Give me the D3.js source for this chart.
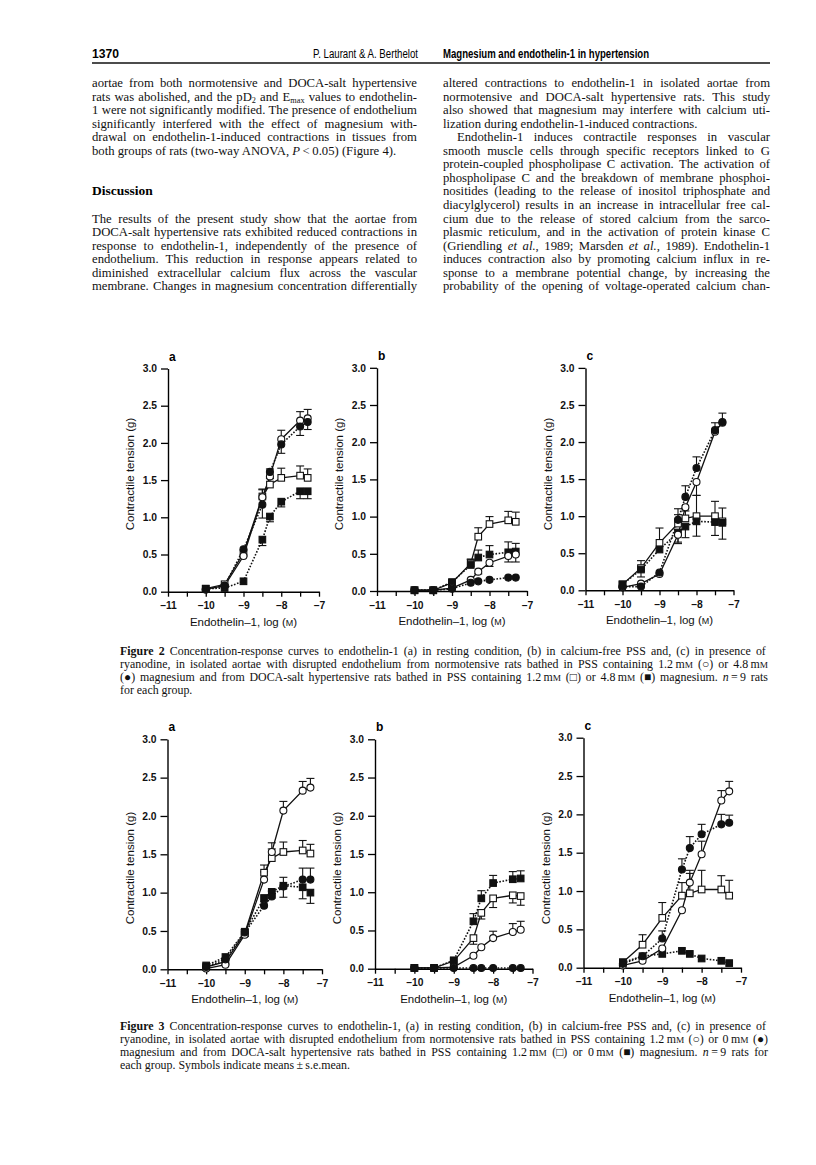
<!DOCTYPE html>
<html>
<head>
<meta charset="utf-8">
<title>Magnesium and endothelin-1 in hypertension</title>
<script src="https://d3js.org/d3.v7.min.js"></script>
<style>
  body { margin: 0; background: #fff; }
  svg { display: block; }
  .body-text { font-family: "Liberation Serif", "Times New Roman", serif; font-size: 12.7px; fill: #111; }
  .caption { font-family: "Liberation Serif", "Times New Roman", serif; font-size: 11.9px; fill: #111; }
  .tick text { font-family: "Liberation Sans", Arial, sans-serif; font-size: 10.3px; font-weight: bold; fill: #111; }
  .axis-title { font-family: "Liberation Sans", Arial, sans-serif; font-size: 11.5px; fill: #111; }
</style>
</head>
<body>
<svg id="page" width="816" height="1165"></svg>
<script>
// doses, log(M): 1e-10, 3e-10, 1e-9, 3e-9, 5e-9, 1e-8, 3e-8, 5e-8
var doses = [-10, -9.5, -9, -8.5, -8.3, -8, -7.5, -7.3];
var xTicks = [-11, -10.5, -10, -9.5, -9, -8.5, -8, -7.5, -7];
var yTicks = [0, 0.5, 1, 1.5, 2, 2.5, 3];

// series order: open circle, filled circle, open square, filled square
// sem: + drawn upwards, - drawn downwards
var fig2aMean = [
  [0.03, 0.08, 0.48, 1.27, 1.55, 2.05, 2.30, 2.33],
  [0.03, 0.08, 0.57, 1.17, 1.61, 1.98, 2.22, 2.28],
  [0.04, 0.10, 0.52, 1.28, 1.44, 1.53, 1.56, 1.53],
  [0.04, 0.05, 0.14, 0.70, 1.01, 1.21, 1.35, 1.35]];
var fig2aSem = [
  [0, 0, 0, 0.10, 0.10, 0.12, 0.12, 0.12],
  [0, 0, 0, -0.18, -0.08, -0.12, -0.12, -0.10],
  [0, 0, 0, 0.10, 0.08, 0.13, 0.13, 0.12],
  [0, 0, 0, -0.08, -0.07, -0.07, -0.10, -0.10]];

var fig2bMean = [
  [0.01, 0.01, 0.04, 0.15, 0.26, 0.38, 0.47, 0.49],
  [0.01, 0.01, 0.03, 0.11, 0.13, 0.15, 0.18, 0.18],
  [0.01, 0.01, 0.11, 0.37, 0.73, 0.90, 0.95, 0.93],
  [0.01, 0.01, 0.12, 0.35, 0.45, 0.49, 0.52, 0.53]];
var fig2bSem = [
  [0, 0, 0, 0, -0.03, -0.05, -0.08, -0.10],
  [0, 0, 0, 0, 0, 0, 0, 0],
  [0, 0, 0, 0.05, 0.12, 0.10, 0.12, 0.13],
  [0, 0, 0, 0.08, 0.10, 0.12, 0.14, 0.11]];

var fig2cMean = [
  [0.04, 0.09, 0.22, 0.75, 1.12, 1.46, 2.14, 2.26],
  [0.05, 0.05, 0.24, 0.95, 1.26, 1.65, 2.16, 2.27],
  [0.08, 0.30, 0.64, 0.90, 0.97, 1.00, 1.00, 0.93],
  [0.08, 0.28, 0.55, 0.78, 0.86, 0.93, 0.92, 0.91]];
var fig2cSem = [
  [0, 0, 0, -0.10, 0, -0.18, 0, 0],
  [0, 0, 0, 0.15, 0.15, 0.15, 0.10, 0.12],
  [0, 0.10, 0.20, 0.12, 0.10, 0.28, 0.20, 0.18],
  [0, -0.10, 0, -0.15, -0.15, -0.20, -0.18, -0.22]];

var fig3aMean = [
  [0.01, 0.06, 0.45, 1.17, 1.53, 2.07, 2.33, 2.37],
  [0.03, 0.13, 0.48, 0.83, 0.95, 1.08, 1.17, 1.17],
  [0.03, 0.10, 0.47, 1.26, 1.45, 1.53, 1.55, 1.51],
  [0.05, 0.16, 0.49, 0.93, 1.01, 1.09, 1.07, 1.00]];
var fig3aSem = [
  [0, 0, 0.05, 0.10, 0.12, 0.12, 0.12, 0.12],
  [0, 0, 0, 0, 0.07, 0.12, 0.15, 0.15],
  [0, 0, 0.05, 0.10, 0.12, 0.13, 0.13, 0.12],
  [0, 0, -0.06, -0.05, -0.08, -0.15, -0.15, -0.14]];

var fig3bMean = [
  [0.01, 0.01, 0.02, 0.17, 0.28, 0.40, 0.48, 0.51],
  [0.01, 0.01, 0.01, 0.01, 0.01, 0.01, 0.01, 0.01],
  [0.01, 0.01, 0.10, 0.40, 0.73, 0.92, 0.96, 0.95],
  [0.01, 0.01, 0.11, 0.62, 0.92, 1.12, 1.17, 1.18]];
var fig3bSem = [
  [0, 0, 0, 0, 0, 0.09, 0.11, 0.11],
  [0, 0, 0, 0, 0, 0, 0, 0],
  [0, 0, 0, -0.08, -0.08, -0.12, -0.10, -0.12],
  [0, 0, 0, 0.10, 0.10, 0.10, 0.10, 0.10]];

var fig3cMean = [
  [0.03, 0.09, 0.25, 0.75, 1.11, 1.48, 2.18, 2.30],
  [0.05, 0.15, 0.38, 1.28, 1.56, 1.74, 1.87, 1.89],
  [0.07, 0.30, 0.65, 0.94, 0.97, 1.02, 1.02, 0.94],
  [0.07, 0.15, 0.18, 0.22, 0.18, 0.12, 0.09, 0.06]];
var fig3cSem = [
  [0, 0, 0, 0, 0.12, 0.17, 0.13, 0.13],
  [0, 0, 0.10, 0.14, 0.15, 0.13, 0.13, 0.10],
  [0, 0.13, 0.20, 0.17, 0.30, 0.25, 0.18, 0.20],
  [0, 0, 0, 0, 0, 0, 0, 0]];

// page text ({i:..} italic, {sub:..} subscript, {sc:..} small caps, {b:..} bold)
var leftLines = [
  "aortae from both normotensive and DOCA-salt hypertensive",
  "rats was abolished, and the pD{sub:2} and E{sub:max} values to endothelin-",
  "1 were not significantly modified. The presence of endothelium",
  "significantly interfered with the effect of magnesium with-",
  "drawal on endothelin-1-induced contractions in tissues from",
  "both groups of rats (two-way ANOVA, {i:P}\u2009<\u20090.05) (Figure 4).|"];
var leftLines2 = [
  "The results of the present study show that the aortae from",
  "DOCA-salt hypertensive rats exhibited reduced contractions in",
  "response to endothelin-1, independently of the presence of",
  "endothelium. This reduction in response appears related to",
  "diminished extracellular calcium flux across the vascular",
  "membrane. Changes in magnesium concentration differentially"];
var rightLines = [
  "altered contractions to endothelin-1 in isolated aortae from",
  "normotensive and DOCA-salt hypertensive rats. This study",
  "also showed that magnesium may interfere with calcium uti-",
  "lization during endothelin-1-induced contractions.|",
  ">Endothelin-1 induces contractile responses in vascular",
  "smooth muscle cells through specific receptors linked to G",
  "protein-coupled phospholipase C activation. The activation of",
  "phospholipase C and the breakdown of membrane phosphoi-",
  "nositides (leading to the release of inositol triphosphate and",
  "diacylglycerol) results in an increase in intracellular free cal-",
  "cium due to the release of stored calcium from the sarco-",
  "plasmic reticulum, and in the activation of protein kinase C",
  "(Griendling {i:et al.}, 1989; Marsden {i:et al.}, 1989). Endothelin-1",
  "induces contraction also by promoting calcium influx in re-",
  "sponse to a membrane potential change, by increasing the",
  "probability of the opening of voltage-operated calcium chan-"];
var fig2Caption = [
  "{b:Figure 2}  Concentration-response curves to endothelin-1 (a) in resting condition, (b) in calcium-free PSS and, (c) in presence of",
  "ryanodine, in isolated aortae with disrupted endothelium from normotensive rats bathed in PSS containing 1.2\u2009m{sc:M} (\u25cb) or 4.8\u2009m{sc:M}",
  "(\u25cf) magnesium and from DOCA-salt hypertensive rats bathed in PSS containing 1.2\u2009m{sc:M} (\u25a1) or 4.8\u2009m{sc:M} (\u25a0) magnesium. {i:n}\u2009=\u20099 rats",
  "for each group.|"];
var fig3Caption = [
  "{b:Figure 3}  Concentration-response curves to endothelin-1, (a) in resting condition, (b) in calcium-free PSS and, (c) in presence of",
  "ryanodine, in isolated aortae with disrupted endothelium from normotensive rats bathed in PSS containing 1.2\u2009m{sc:M} (\u25cb) or 0\u2009m{sc:M} (\u25cf)",
  "magnesium and from DOCA-salt hypertensive rats bathed in PSS containing 1.2\u2009m{sc:M} (\u25a1) or 0\u2009m{sc:M} (\u25a0) magnesium. {i:n}\u2009=\u20099 rats for",
  "each group. Symbols indicate means\u2009\u00b1\u2009s.e.mean.|"];

var svg = d3.select("#page");
svg.append("rect").attr("width", 816).attr("height", 1165).attr("fill", "#fff");

//
// text helpers
//
function rich(text, str) {
  var re = /\{(i|sub|sc|b):([^}]*)\}/g, last = 0, m, shift = 0;
  function plain(s) {
    var t = text.append("tspan").text(s);
    if (shift) { t.attr("dy", -shift); shift = 0; }
  }
  while ((m = re.exec(str))) {
    if (m.index > last) plain(str.slice(last, m.index));
    var t = text.append("tspan").text(m[2]);
    if (shift) { t.attr("dy", -shift); shift = 0; }
    if (m[1] == "i") t.attr("font-style", "italic");
    if (m[1] == "b") t.attr("font-weight", "bold");
    if (m[1] == "sc") t.attr("font-size", "78%");
    if (m[1] == "sub") { t.attr("font-size", "65%").attr("dy", 2.5); shift = 2.5; }
    last = re.lastIndex;
  }
  if (last < str.length) plain(str.slice(last));
}

function block(lines, cls, x0, x1, y0, lh, indent) {
  lines.forEach(function(line, i) {
    var last = line.slice(-1) == "|";
    var ind = line[0] == ">";
    var s = line.replace(/\|$/, "").replace(/^>/, "");
    var x = x0 + (ind ? indent : 0);
    var t = svg.append("text").attr("class", cls).attr("x", x).attr("y", y0 + i * lh);
    rich(t, s);
    if (!last) {
      var w = t.node().getComputedTextLength();
      var spaces = (s.match(/ /g) || []).length;
      if (spaces) t.attr("word-spacing", ((x1 - x) - w) / spaces);
    }
  });
}

// header (condensed sans, squeezed to the widths in the print)
svg.append("text").attr("x", 92).attr("y", 58)
  .style("font", "bold 12.5px 'Liberation Sans', Arial, sans-serif")
  .attr("textLength", 27).attr("lengthAdjust", "spacingAndGlyphs").text("1370");
svg.append("text").attr("x", 313).attr("y", 58)
  .style("font", "12.5px 'Liberation Sans', Arial, sans-serif")
  .attr("textLength", 105).attr("lengthAdjust", "spacingAndGlyphs")
  .text("P. Laurant & A. Berthelot");
svg.append("text").attr("x", 443).attr("y", 58)
  .style("font", "bold 12.5px 'Liberation Sans', Arial, sans-serif")
  .attr("textLength", 206).attr("lengthAdjust", "spacingAndGlyphs")
  .text("Magnesium and endothelin-1 in hypertension");
svg.append("line").attr("x1", 92).attr("x2", 770).attr("y1", 63).attr("y2", 63)
  .attr("stroke", "#111").attr("stroke-width", 1.3);

var lh = 13.55;
block(leftLines, "body-text", 92, 417, 87, lh, 0);
svg.append("text").attr("x", 92).attr("y", 87 + 8 * lh)
  .style("font", "bold 13.5px 'Liberation Serif', 'Times New Roman', serif").text("Discussion");
block(leftLines2, "body-text", 92, 417, 87 + 10 * lh, lh, 0);
block(rightLines, "body-text", 443, 770, 87, lh, 14);

block(fig2Caption, "caption", 120, 768, 655, 13, 0);
block(fig3Caption, "caption", 120, 768, 1030, 13, 0);

//
// panels
//
function panel(mean, sem, box, letter) {
  var x = d3.scaleLinear().domain([-11, -7]).range([box.left, box.right]);
  var y = d3.scaleLinear().domain([0, 3]).range([box.bottom, box.top]);
  var g = svg.append("g");

  g.append("g").attr("transform", "translate(0," + box.bottom + ")")
    .call(d3.axisBottom(x).tickValues(xTicks).tickSize(5).tickSizeOuter(0)
      .tickFormat(function(d) { return d % 1 ? "" : "\u2013" + Math.abs(d); }))
    .call(function(a) {
      a.select(".domain").attr("stroke-width", 1.4);
      a.selectAll(".tick line").attr("stroke-width", 1.3);
      a.selectAll(".tick text").attr("dy", "0.95em");
    });
  g.append("g").attr("transform", "translate(" + box.left + ",0)")
    .call(d3.axisLeft(y).tickValues(yTicks).tickSize(7).tickSizeOuter(0)
      .tickFormat(d3.format(".1f")))
    .call(function(a) {
      a.select(".domain").attr("stroke-width", 1.4);
      a.selectAll(".tick line").attr("stroke-width", 1.3);
      a.selectAll(".tick text").attr("x", -11);
    });

  var midX = (box.left + box.right) / 2;
  g.append("text").attr("class", "axis-title").attr("x", midX).attr("y", box.bottom + 34)
    .attr("text-anchor", "middle")
    .call(function(t) { rich(t, "Endothelin\u20131, log ({sc:M})"); });
  g.append("text").attr("class", "axis-title")
    .attr("transform", "translate(" + (box.left - 34) + "," + box.labelY + ") rotate(-90)")
    .attr("text-anchor", "middle").text("Contractile tension (g)");
  g.append("text").attr("x", box.left + 1).attr("y", box.top - 8)
    .style("font", "bold 12px 'Liberation Sans', Arial, sans-serif").text(letter);

  var line = d3.line().x(function(d, i) { return x(doses[i]); }).y(function(d) { return y(d); });
  // lines: open symbols solid, filled symbols dotted
  mean.forEach(function(s, k) {
    g.append("path").datum(s).attr("d", line).attr("fill", "none").attr("stroke", "#111")
      .attr("stroke-width", k % 2 ? 1.6 : 1.3)
      .attr("stroke-dasharray", k % 2 ? "1.6,1.6" : null);
  });
  // error bars
  mean.forEach(function(s, k) {
    s.forEach(function(v, i) {
      var e = sem[k][i];
      if (!e) return;
      var cx = x(doses[i]), y1 = y(v + e);
      g.append("line").attr("x1", cx).attr("x2", cx).attr("y1", y(v)).attr("y2", y1)
        .attr("stroke", "#111").attr("stroke-width", 1.1);
      g.append("line").attr("x1", cx - 4).attr("x2", cx + 4).attr("y1", y1).attr("y2", y1)
        .attr("stroke", "#111").attr("stroke-width", 1.1);
    });
  });
  // markers, squares drawn first so circles sit on top
  [2, 3, 0, 1].forEach(function(k) {
    var filled = k % 2 == 1, sq = k >= 2;
    var sel = g.selectAll(null).data(mean[k]).enter();
    if (sq) {
      sel.append("rect")
        .attr("x", function(d, i) { return x(doses[i]) - 3.3; })
        .attr("y", function(d) { return y(d) - 3.3; })
        .attr("width", 6.6).attr("height", 6.6)
        .attr("fill", filled ? "#111" : "#fff").attr("stroke", "#111").attr("stroke-width", 1.1);
    } else {
      sel.append("circle")
        .attr("cx", function(d, i) { return x(doses[i]); })
        .attr("cy", function(d) { return y(d); })
        .attr("r", 3.5)
        .attr("fill", filled ? "#111" : "#fff").attr("stroke", "#111").attr("stroke-width", 1.1);
    }
  });
}

panel(fig2aMean, fig2aSem, {left: 168, right: 319, top: 368.5, bottom: 591.7, labelY: 474}, "a");
panel(fig2bMean, fig2bSem, {left: 377, right: 527, top: 367.8, bottom: 591, labelY: 474}, "b");
panel(fig2cMean, fig2cSem, {left: 585.5, right: 733.5, top: 367.9, bottom: 590.3, labelY: 474}, "c");

panel(fig3aMean, fig3aSem, {left: 167.5, right: 322, top: 739.3, bottom: 969.3, labelY: 868}, "a");
panel(fig3bMean, fig3bSem, {left: 375, right: 532.5, top: 739.3, bottom: 968.7, labelY: 868}, "b");
panel(fig3cMean, fig3cSem, {left: 583.5, right: 741, top: 737.7, bottom: 967.7, labelY: 868}, "c");
</script>
</body>
</html>
